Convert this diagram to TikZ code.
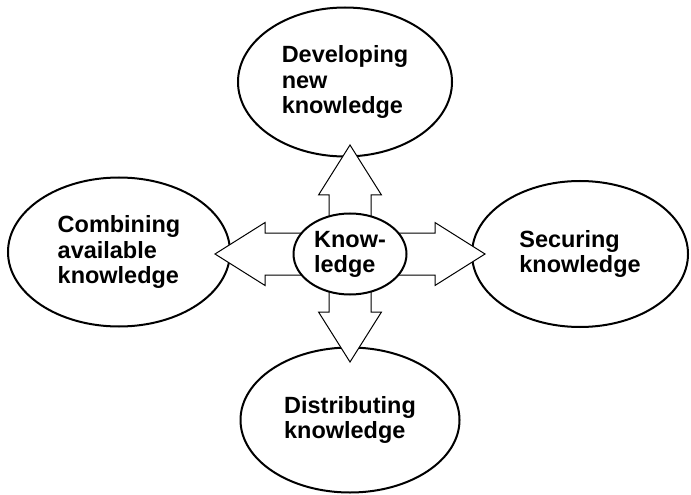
\documentclass[tikz,border=0pt]{standalone}
\usepackage{fontspec}
\setmainfont{Liberation Sans}
\usetikzlibrary{shapes.geometric,calc}

\newcommand\shaftw{15.75pt}
\newcommand\wingw{23.6pt}
\newcommand\headl{37.5pt}

\tikzset{every picture/.style={line width=0.75pt}}
\tikzset{
  leaf/.style={ellipse, draw, line width=1.5pt, fill=white, inner sep=0pt,
    align=left, font=\fontsize{17.6}{18.8}\selectfont\bfseries},
  fat arrow/.style={draw, fill=white, line width=0.75pt, line join=miter,
    to path={($(\tikztotarget)!\headl!(\tikztostart)$) coordinate (fab)
      ($(\tikztostart)!\shaftw!90:(\tikztotarget)$)
      -- ($(fab)!\shaftw!90:(\tikztotarget)$)
      -- ($(fab)!\wingw!90:(\tikztotarget)$)
      -- (\tikztotarget)
      -- ($(fab)!\wingw!-90:(\tikztotarget)$)
      -- ($(fab)!\shaftw!-90:(\tikztotarget)$)
      -- ($(\tikztostart)!\shaftw!-90:(\tikztotarget)$) -- cycle}}
}

\begin{document}
\begin{tikzpicture}[x=0.75pt,y=0.75pt,yscale=-1,xscale=1]
\useasboundingbox (0,0) rectangle (691,495);

%Shape: Ellipse
\node[leaf, minimum width=160.5pt, minimum height=111.75pt] (dev) at (345,82) {Developing\\new\\knowledge};
%Shape: Ellipse
\node[leaf, minimum width=166.5pt, minimum height=111.75pt] (comb) at (119,252) {Combining\\available\\knowledge};
%Shape: Ellipse
\node[leaf, minimum width=162pt, minimum height=109.5pt] (sec) at (580,254) {Securing\\knowledge};
%Shape: Ellipse
\node[leaf, minimum width=164.25pt, minimum height=108.75pt] (dist) at (350,420) {Distributing\\knowledge};

\coordinate (hub) at (350,254);
\coordinate (devtip) at (350,145);
\coordinate (combtip) at (215,254);
\coordinate (sectip) at (485,254);
\coordinate (disttip) at (350,362);

%Shape: Block Arrows
\draw[fat arrow] (hub) to (devtip);
\draw[fat arrow] (hub) to (combtip);
\draw[fat arrow] (hub) to (sectip);
\draw[fat arrow] (hub) to (disttip);

%Shape: Ellipse
\node[leaf, minimum width=84.75pt, minimum height=60.75pt] (know) at (hub) {Know-\\ledge};

\end{tikzpicture}
\end{document}
